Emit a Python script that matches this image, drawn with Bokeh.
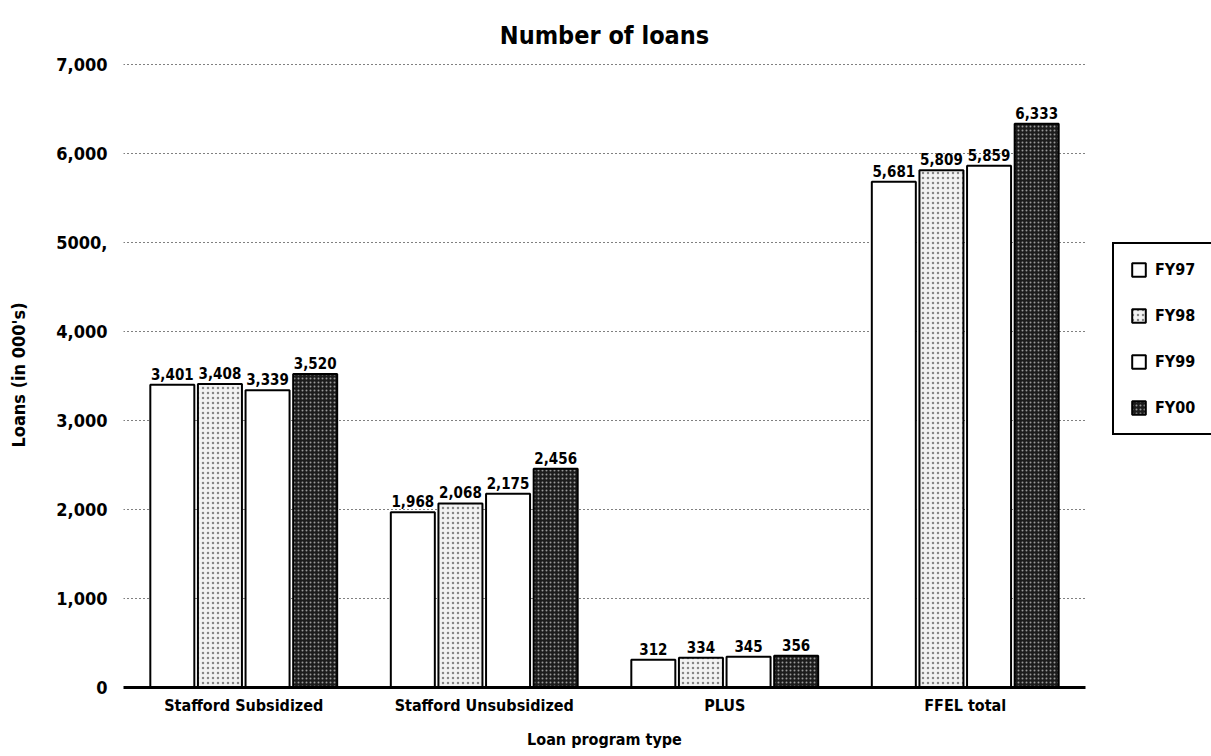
from bokeh.plotting import figure
from bokeh.models import (FactorRange, Range1d, Legend, LegendItem, FixedTicker)
from bokeh.transform import dodge
from bokeh.core.properties import value
from bokeh.embed import file_html
from bokeh.resources import INLINE

# ---- data ----
categories = ["Stafford Subsidized", "Stafford Unsubsidized", "PLUS", "FFEL total"]
series_names = ["FY97", "FY98", "FY99", "FY00"]
fy97 = [3401, 1968, 312, 5681]
fy98 = [3408, 2068, 334, 5809]
fy99 = [3339, 2175, 345, 5859]
fy00 = [3520, 2456, 356, 6333]
y_ticks = [0, 1000, 2000, 3000, 4000, 5000, 6000, 7000]
y_tick_labels = ["0", "1,000", "2,000", "3,000", "4,000", "5000,", "6,000", "7,000"]

FONT = "DejaVu Sans Condensed"

p = figure(x_range=FactorRange(factors=categories, range_padding=0),
           y_range=Range1d(0, 7020),
           frame_width=962, frame_height=625,
           min_border_left=123, min_border_top=62, min_border_right=120,
           min_border_bottom=60,
           output_backend="svg", toolbar_location=None,
           title="Number of loans")

p.title.text_font = FONT
p.title.text_font_size = "25px"
p.title.text_font_style = "bold"
p.title.text_color = "black"
p.title.align = "center"
p.title.standoff = 26

styles = [
    dict(fill_color="white"),
    dict(fill_color="#f2f2f2", hatch_pattern="dot", hatch_color="#6a6a6a",
         hatch_scale=5, hatch_weight=1.2, hatch_alpha=0.8),
    dict(fill_color="white"),
    dict(fill_color="#1c1c1c", hatch_pattern="dot", hatch_color="white",
         hatch_scale=4, hatch_weight=1, hatch_alpha=0.55),
]
offsets = [-0.297, -0.099, 0.099, 0.297]
series = [fy97, fy98, fy99, fy00]

renderers = []
for name, vals, off, st in zip(series_names, series, offsets, styles):
    src = dict(cat=categories, val=vals, lbl=[f"{v:,}" for v in vals])
    r = p.vbar(x=dodge("cat", off, range=p.x_range), top="val", width=0.183,
               source=src, line_color="black", line_width=2, **st)
    p.text(x=dodge("cat", off, range=p.x_range), y="val", text="lbl", source=src,
           text_align="center", text_baseline="bottom", y_offset=-5,
           text_font=value(FONT), text_font_size="15px", text_font_style="bold",
           text_color="black")
    renderers.append((name, r))

legend = Legend(items=[LegendItem(label=n, renderers=[r]) for n, r in renderers],
                location=(27, 252), margin=0, padding=16, spacing=27,
                glyph_width=17, glyph_height=17, label_standoff=8,
                label_text_font=FONT, label_text_font_size="16px",
                label_text_font_style="bold", label_text_color="black",
                label_height=17,
                border_line_color="black", border_line_width=2,
                border_line_alpha=1,
                background_fill_color="white", background_fill_alpha=1)
p.add_layout(legend, "right")

# axes
p.yaxis.ticker = FixedTicker(ticks=y_ticks)
p.yaxis.major_label_overrides = {t: l for t, l in zip(y_ticks, y_tick_labels)}
p.yaxis.axis_line_color = None
p.yaxis.major_tick_line_color = None
p.yaxis.minor_tick_line_color = None
p.yaxis.major_label_standoff = 10
p.yaxis.major_label_text_font = FONT
p.yaxis.major_label_text_font_size = "18px"
p.yaxis.major_label_text_font_style = "bold"
p.yaxis.major_label_text_color = "black"
p.yaxis.axis_label = "Loans (in 000's)"
p.yaxis.axis_label_text_font = FONT
p.yaxis.axis_label_text_font_size = "18px"
p.yaxis.axis_label_text_font_style = "bold"
p.yaxis.axis_label_text_color = "black"
p.yaxis.axis_label_standoff = 24

p.xaxis.axis_line_color = "black"
p.xaxis.axis_line_width = 3
p.xaxis.major_tick_line_color = None
p.xaxis.minor_tick_line_color = None
p.xaxis.major_label_standoff = 2
p.xaxis.major_label_text_font = FONT
p.xaxis.major_label_text_font_size = "16px"
p.xaxis.major_label_text_font_style = "bold"
p.xaxis.major_label_text_color = "black"
p.xaxis.axis_label = "Loan program type"
p.xaxis.axis_label_text_font = FONT
p.xaxis.axis_label_text_font_size = "16px"
p.xaxis.axis_label_text_font_style = "bold"
p.xaxis.axis_label_text_color = "black"
p.xaxis.axis_label_standoff = 12

p.xgrid.grid_line_color = None
p.ygrid.grid_line_color = "black"
p.ygrid.grid_line_dash = "1 3"
p.ygrid.grid_line_width = 1
p.outline_line_color = None
p.background_fill_color = "white"

open("out.html", "w").write(file_html(p, INLINE))
